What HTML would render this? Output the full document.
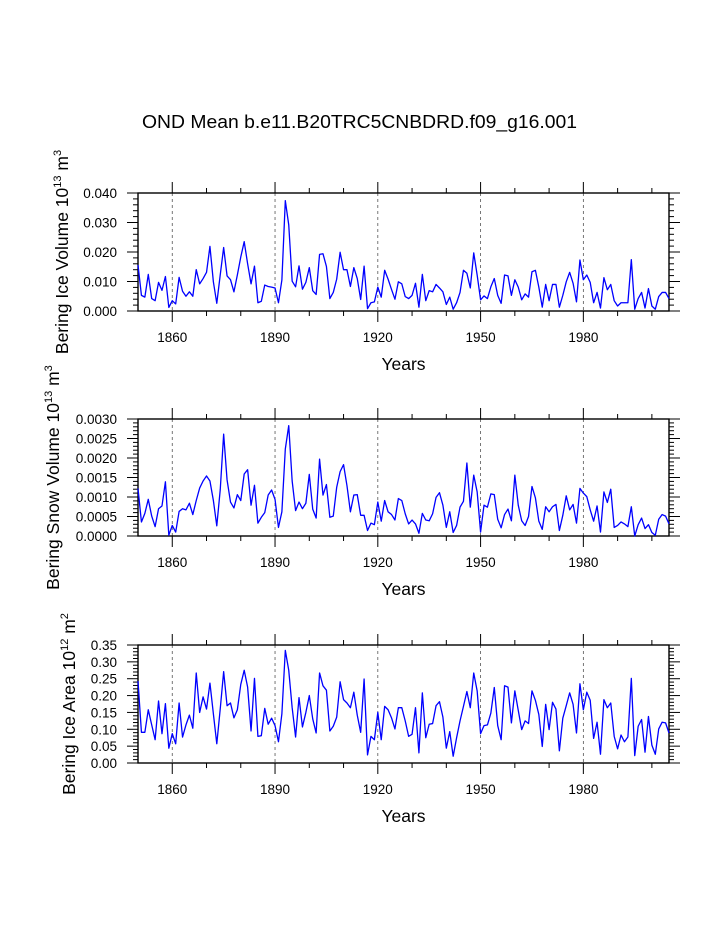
<!DOCTYPE html>
<html><head><meta charset="utf-8"><style>
html,body{margin:0;padding:0;background:#fff;}
svg{display:block;font-family:"Liberation Sans",Arial,sans-serif;}
</style></head><body>
<svg id="chart" width="723" height="935" viewBox="0 0 723 935" xmlns="http://www.w3.org/2000/svg">
<rect width="723" height="935" fill="#fff"/>
<text x="142" y="128" font-size="18.5" textLength="435" lengthAdjust="spacingAndGlyphs">OND Mean b.e11.B20TRC5CNBDRD.f09_g16.001</text>
</svg>
<script>
const startYear = 1850;
const endYear = 2005;
const iceVolume = [0.0156,0.0053,0.0047,0.0124,0.0042,0.0035,0.0097,0.0070,0.0117,0.0012,
0.0035,0.0024,0.0114,0.0067,0.0050,0.0065,0.0050,0.0140,0.0092,0.0110,
0.0131,0.0219,0.0099,0.0026,0.0122,0.0215,0.0119,0.0106,0.0065,0.0122,
0.0183,0.0235,0.0160,0.0092,0.0152,0.0028,0.0033,0.0088,0.0083,0.0081,
0.0078,0.0028,0.0105,0.0374,0.0292,0.0101,0.0082,0.0153,0.0074,0.0097,
0.0147,0.0069,0.0056,0.0192,0.0194,0.0151,0.0042,0.0063,0.0108,0.0199,
0.0140,0.0140,0.0083,0.0147,0.0110,0.0039,0.0152,0.0008,0.0028,0.0031,
0.0081,0.0047,0.0138,0.0108,0.0073,0.0040,0.0099,0.0092,0.0049,0.0042,
0.0053,0.0094,0.0013,0.0124,0.0035,0.0069,0.0065,0.0090,0.0078,0.0065,
0.0022,0.0047,0.0006,0.0028,0.0063,0.0138,0.0128,0.0078,0.0197,0.0122,
0.0038,0.0051,0.0042,0.0082,0.0110,0.0053,0.0026,0.0122,0.0119,0.0053,
0.0106,0.0081,0.0038,0.0058,0.0047,0.0133,0.0138,0.0081,0.0013,0.0090,
0.0035,0.0090,0.0090,0.0013,0.0053,0.0099,0.0131,0.0094,0.0031,0.0173,
0.0106,0.0122,0.0097,0.0028,0.0063,0.0010,0.0113,0.0072,0.0090,0.0035,
0.0017,0.0028,0.0028,0.0028,0.0174,0.0006,0.0042,0.0063,0.0010,0.0076,
0.0017,0.0006,0.0049,0.0063,0.0063,0.0042];
const snowVolume = [0.00122,0.00036,0.00058,0.00094,0.00051,0.00024,0.00070,0.00077,0.00139,0.00002,
0.00027,0.00010,0.00063,0.00070,0.00067,0.00084,0.00055,0.00091,0.00123,0.00141,
0.00154,0.00141,0.00091,0.00026,0.00118,0.00261,0.00144,0.00087,0.00072,0.00106,
0.00091,0.00159,0.00170,0.00079,0.00130,0.00033,0.00048,0.00060,0.00105,0.00118,
0.00094,0.00022,0.00062,0.00223,0.00283,0.00141,0.00065,0.00087,0.00070,0.00084,
0.00158,0.00069,0.00046,0.00197,0.00105,0.00132,0.00048,0.00051,0.00125,0.00165,
0.00183,0.00129,0.00062,0.00105,0.00106,0.00053,0.00053,0.00014,0.00033,0.00029,
0.00087,0.00038,0.00091,0.00062,0.00055,0.00041,0.00096,0.00091,0.00057,0.00031,
0.00041,0.00031,0.00007,0.00058,0.00041,0.00039,0.00057,0.00099,0.00111,0.00079,
0.00022,0.00062,0.00009,0.00027,0.00074,0.00089,0.00187,0.00074,0.00156,0.00113,
0.00010,0.00079,0.00074,0.00108,0.00106,0.00043,0.00021,0.00055,0.00069,0.00039,
0.00156,0.00079,0.00039,0.00027,0.00050,0.00127,0.00098,0.00038,0.00017,0.00075,
0.00062,0.00075,0.00081,0.00014,0.00053,0.00103,0.00067,0.00081,0.00033,0.00122,
0.00110,0.00101,0.00067,0.00038,0.00077,0.00010,0.00113,0.00086,0.00120,0.00022,
0.00027,0.00036,0.00031,0.00024,0.00075,0.00000,0.00029,0.00046,0.00019,0.00029,
0.00009,0.00002,0.00043,0.00055,0.00051,0.00031];
const iceArea = [0.243,0.091,0.091,0.158,0.113,0.069,0.184,0.087,0.176,0.044,
0.087,0.057,0.178,0.077,0.113,0.142,0.103,0.267,0.150,0.196,
0.160,0.237,0.146,0.057,0.160,0.271,0.170,0.178,0.134,0.158,
0.233,0.275,0.225,0.095,0.251,0.079,0.081,0.162,0.115,0.133,
0.111,0.063,0.146,0.334,0.275,0.164,0.077,0.194,0.107,0.150,
0.200,0.131,0.089,0.267,0.229,0.216,0.095,0.109,0.136,0.241,
0.188,0.178,0.164,0.210,0.142,0.091,0.249,0.024,0.079,0.069,
0.150,0.069,0.168,0.158,0.134,0.101,0.164,0.164,0.125,0.079,
0.085,0.164,0.030,0.208,0.075,0.115,0.117,0.170,0.182,0.136,
0.044,0.093,0.020,0.075,0.125,0.168,0.212,0.164,0.267,0.214,
0.087,0.111,0.113,0.148,0.224,0.111,0.069,0.229,0.225,0.119,
0.214,0.156,0.099,0.125,0.117,0.214,0.186,0.144,0.049,0.174,
0.099,0.180,0.160,0.036,0.133,0.170,0.208,0.174,0.089,0.235,
0.158,0.210,0.186,0.073,0.121,0.026,0.188,0.164,0.178,0.079,
0.042,0.083,0.063,0.077,0.251,0.022,0.109,0.129,0.032,0.138,
0.053,0.026,0.101,0.121,0.119,0.089];
const xTickYears = [1860,1890,1920,1950,1980];
const iceVolTicks = ["0.000","0.010","0.020","0.030","0.040"];
const snowVolTicks = ["0.0000","0.0005","0.0010","0.0015","0.0020","0.0025","0.0030"];
const areaTicks = ["0.00","0.05","0.10","0.15","0.20","0.25","0.30","0.35"];

const NS = "http://www.w3.org/2000/svg";
const svg = document.getElementById('chart');
function mk(tag, attrs, parent){
  const e = document.createElementNS(NS, tag);
  for (const k in attrs) e.setAttribute(k, attrs[k]);
  (parent||svg).appendChild(e);
  return e;
}
const L = 138, R = 669;
function xs(yr){ return L + (yr - startYear) / (endYear - startYear) * (R - L); }

function panel(cfg){
  const T = cfg.top, B = cfg.bottom;
  const ymax = parseFloat(cfg.ticks[cfg.ticks.length-1]);
  const ys = v => B - v / ymax * (B - T);
  const g = mk('g', {});
  
  
  // dashed grid
  xTickYears.forEach(yr => {
    const l = mk('line', {x1:xs(yr), x2:xs(yr), y1:T, y2:B, stroke:'#555', 'stroke-width':0.8, 'stroke-dasharray':'3,3'}, g);
    
    
  });
  // x ticks major/minor, top & bottom outward
  for (let yr = 1860; yr <= endYear; yr += 10) {
    const major = xTickYears.includes(yr);
    const len = major ? 11 : 5;
    mk('line', {x1:xs(yr), x2:xs(yr), y1:B, y2:B+len, stroke:'#000', 'stroke-width':1}, g);
    mk('line', {x1:xs(yr), x2:xs(yr), y1:T, y2:T-len, stroke:'#000', 'stroke-width':1}, g);
  }
  xTickYears.forEach(yr => {
    const t = mk('text', {x:xs(yr), y:B+31, 'font-size':13.5, 'text-anchor':'middle'}, g);
    t.textContent = yr;
    
    
  });
  // y ticks
  const nMaj = cfg.ticks.length - 1;
  for (let i = 0; i <= nMaj*5; i++) {
    const v = ymax * i / (nMaj*5);
    const major = i % 5 === 0;
    const len = major ? 11 : 5;
    mk('line', {x1:L, x2:L-len, y1:ys(v), y2:ys(v), stroke:'#000', 'stroke-width':1}, g);
    mk('line', {x1:R, x2:R+len, y1:ys(v), y2:ys(v), stroke:'#000', 'stroke-width':1}, g);
  }
  cfg.ticks.forEach(s => {
    const t = mk('text', {x:117, y:ys(parseFloat(s))+5, 'font-size':13.5, 'text-anchor':'end'}, g);
    t.textContent = s;
    
    
  });
  // frame
  const fr = mk('rect', {x:L, y:T, width:R-L, height:B-T, fill:'none', stroke:'#000', 'stroke-width':1.4}, g);
  
  
  // series
  const pts = cfg.data.map((v,i) => xs(startYear+i).toFixed(2)+','+ys(v).toFixed(2)).join(' ');
  const pl = mk('polyline', {points:pts, fill:'none', stroke:'#0000ff', 'stroke-width':1.3, 'stroke-linejoin':'round'}, g);
  
  
  // x title
  const xt = mk('text', {x:(L+R)/2, y:B+59, 'font-size':17.5, 'text-anchor':'middle'}, g);
  xt.textContent = 'Years';
  
  
  // y title
  const cy = (T+B)/2;
  const yt = mk('text', {x:cfg.tx, y:cy, 'font-size':17.5, 'text-anchor':'middle', transform:'rotate(-90 '+cfg.tx+' '+cy+')'}, g);
  
  
  const a = mk('tspan', {}, yt); a.textContent = cfg.label + ' 10';
  const b = mk('tspan', {dy:-7, 'font-size':11}, yt); b.textContent = cfg.exp;
  const c = mk('tspan', {dy:7}, yt); c.textContent = ' m';
  const d = mk('tspan', {dy:-7, 'font-size':11}, yt); d.textContent = cfg.unit;
}
panel({name:'ice-volume-panel', top:193, bottom:311, data:iceVolume, ticks:iceVolTicks, label:'Bering Ice Volume', exp:'13', unit:'3', tx:68});
panel({name:'snow-volume-panel', top:419, bottom:536, data:snowVolume, ticks:snowVolTicks, label:'Bering Snow Volume', exp:'13', unit:'3', tx:59});
panel({name:'ice-area-panel', top:645, bottom:763, data:iceArea, ticks:areaTicks, label:'Bering Ice Area', exp:'12', unit:'2', tx:75});
</script>
</body></html>
